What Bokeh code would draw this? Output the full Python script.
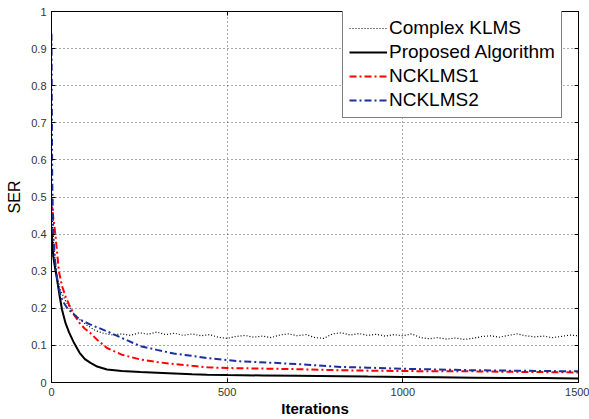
from bokeh.plotting import figure
from bokeh.models import (LinearAxis, FixedTicker, CustomJSTickFormatter, Legend,
                          LegendItem)
from bokeh.embed import file_html
from bokeh.resources import INLINE

# ---- data ----
x_ticks = [0, 500, 1000, 1500]
y_ticks = [0, 0.1, 0.2, 0.3, 0.4, 0.5, 0.6, 0.7, 0.8, 0.9, 1.0]

ck_iter = [0, 3, 8, 15, 25, 40, 60, 80, 100, 125, 150, 175, 200, 225, 250, 275, 300,
           325, 350, 375, 400, 425, 450, 475, 500, 525, 550, 575, 600, 625, 650, 675,
           700, 725, 750, 775, 800, 825, 850, 875, 900, 925, 950, 975, 1000, 1025,
           1050, 1075, 1100, 1125, 1150, 1175, 1200, 1225, 1250, 1275, 1300, 1325,
           1350, 1375, 1400, 1425, 1450, 1475, 1500]
ck_ser = [0.50, 0.42, 0.35, 0.29, 0.25, 0.22, 0.19, 0.17, 0.155, 0.14, 0.132, 0.128,
          0.131, 0.127, 0.134, 0.130, 0.136, 0.129, 0.133, 0.127, 0.131, 0.126, 0.129,
          0.122, 0.119, 0.124, 0.127, 0.122, 0.125, 0.121, 0.128, 0.131, 0.126, 0.129,
          0.121, 0.119, 0.131, 0.134, 0.128, 0.132, 0.127, 0.130, 0.125, 0.129, 0.126,
          0.131, 0.121, 0.118, 0.121, 0.117, 0.120, 0.116, 0.119, 0.124, 0.126, 0.122,
          0.127, 0.131, 0.126, 0.123, 0.125, 0.121, 0.124, 0.128, 0.126]

prop_iter = [0, 2, 5, 10, 16, 22, 30, 40, 50, 64, 80, 95, 111, 130, 158, 200, 253, 300,
             350, 400, 443, 500, 600, 700, 823, 900, 1000, 1100, 1200, 1300, 1400, 1500]
prop_ser = [0.42, 0.38, 0.34, 0.31, 0.277, 0.24, 0.196, 0.16, 0.135, 0.107, 0.08, 0.063,
            0.053, 0.043, 0.035, 0.031, 0.028, 0.026, 0.024, 0.022, 0.021, 0.020, 0.019,
            0.018, 0.017, 0.016, 0.015, 0.014, 0.013, 0.012, 0.012, 0.011]

n1_iter = [0, 3, 11, 21, 30, 40, 50, 64, 80, 95, 111, 130, 158, 200, 253, 300, 348, 400,
           443, 500, 633, 700, 823, 900, 1000, 1100, 1200, 1300, 1400, 1500]
n1_ser = [0.50, 0.46, 0.40, 0.30, 0.26, 0.232, 0.21, 0.183, 0.16, 0.145, 0.133, 0.115,
          0.093, 0.075, 0.062, 0.055, 0.050, 0.045, 0.041, 0.039, 0.037, 0.036, 0.033,
          0.032, 0.031, 0.030, 0.030, 0.029, 0.028, 0.027]

n2_iter = [0, 2, 5, 10, 16, 26, 35, 45, 64, 80, 111, 158, 200, 253, 300, 348, 400, 443,
           538, 633, 728, 823, 900, 1000, 1100, 1200, 1300, 1400, 1500]
n2_ser = [0.94, 0.55, 0.40, 0.33, 0.28, 0.232, 0.215, 0.20, 0.183, 0.17, 0.156, 0.138,
          0.12, 0.098, 0.088, 0.078, 0.072, 0.066, 0.057, 0.053, 0.048, 0.042, 0.040,
          0.037, 0.035, 0.033, 0.032, 0.031, 0.030]

labels = ["Complex KLMS", "Proposed Algorithm", "NCKLMS1", "NCKLMS2"]

FONT = "Liberation Sans"

p = figure(width=589, height=419, x_range=(0, 1500), y_range=(0, 1),
           output_backend="svg", toolbar_location=None,
           min_border_left=51, min_border_right=11, min_border_top=11,
           min_border_bottom=36, background_fill_color="white",
           border_fill_color="white")
p.outline_line_color = "black"
p.outline_line_width = 1

# axes
p.xaxis.ticker = FixedTicker(ticks=x_ticks)
p.yaxis.ticker = FixedTicker(ticks=y_ticks)
p.yaxis.formatter = CustomJSTickFormatter(code="return String(Math.round(tick*10)/10);")
for ax in (p.xaxis[0], p.yaxis[0]):
    ax.major_tick_in = 4
    ax.major_tick_out = 0
    ax.minor_tick_in = 0
    ax.minor_tick_out = 0
    ax.axis_line_color = "black"
    ax.major_tick_line_color = "black"
    ax.major_label_text_font = FONT
    ax.major_label_text_font_size = "11px"
    ax.major_label_text_color = "#333333"
    ax.major_label_standoff = 5
    ax.axis_label_text_font = FONT
    ax.axis_label_text_color = "black"

p.xaxis.axis_label = "Iterations"
p.xaxis.axis_label_text_font_size = "15px"
p.xaxis.axis_label_text_font_style = "bold"
p.xaxis.axis_label_standoff = 1
p.yaxis.axis_label = "SER"
p.yaxis.axis_label_text_font_size = "16px"
p.yaxis.axis_label_text_font_style = "normal"
p.yaxis.axis_label_standoff = 5

# MATLAB-style box: tick marks (no labels) on right and top
for loc, ticks in (("right", y_ticks), ("above", x_ticks)):
    ax = LinearAxis(ticker=FixedTicker(ticks=ticks),
                    formatter=CustomJSTickFormatter(code="return '';"))
    ax.major_tick_in = 4
    ax.major_tick_out = 0
    ax.minor_tick_in = 0
    ax.minor_tick_out = 0
    ax.major_label_text_font_size = "1px"
    ax.major_label_standoff = 0
    ax.axis_line_color = "black"
    p.add_layout(ax, loc)

# grid
p.xgrid.ticker = FixedTicker(ticks=x_ticks)
p.ygrid.ticker = FixedTicker(ticks=y_ticks)
for g in (p.xgrid[0], p.ygrid[0]):
    g.grid_line_color = "#555555"
    g.grid_line_dash = "1 3"
    g.grid_line_width = 1

r_ck = p.line(ck_iter, ck_ser, line_color="black", line_width=1.2, line_dash="1 2")
r_pr = p.line(prop_iter, prop_ser, line_color="black", line_width=2)
r_n1 = p.line(n1_iter, n1_ser, line_color="#ff0000", line_width=2, line_dash="7 3 2 3")
r_n2 = p.line(n2_iter, n2_ser, line_color="#1a2fa0", line_width=2, line_dash="7 3 2 3")

legend = Legend(items=[LegendItem(label=l, renderers=[r]) for l, r in
                       zip(labels, [r_ck, r_pr, r_n1, r_n2])],
                location=(291, 264))
legend.label_text_font = FONT
legend.label_text_font_size = "19px"
legend.label_text_color = "black"
legend.label_height = 20
legend.glyph_height = 20
legend.glyph_width = 38
legend.label_standoff = 2
legend.spacing = 2
legend.padding = 6
legend.margin = 0
legend.border_line_color = "black"
legend.border_line_width = 1
legend.background_fill_color = "white"
legend.background_fill_alpha = 1
p.add_layout(legend, "center")

open("out.html", "w").write(file_html(p, INLINE))
